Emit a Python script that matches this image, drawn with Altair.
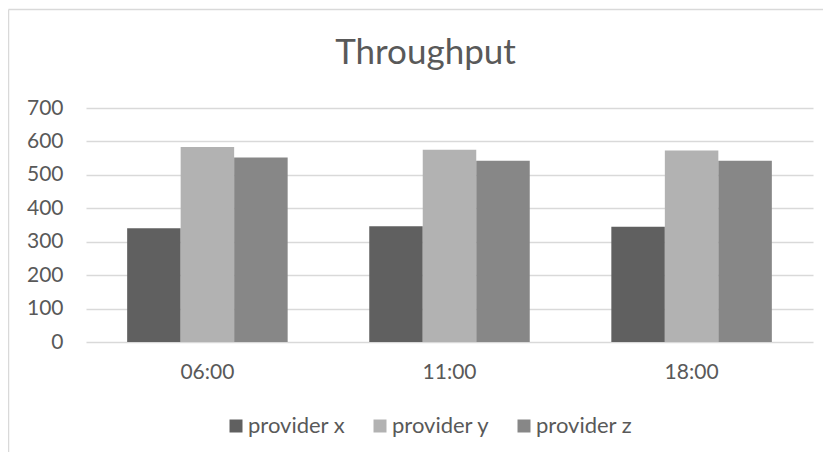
import altair as alt
import pandas as pd

times = ["06:00", "11:00", "18:00"]
providers = ["provider x", "provider y", "provider z"]
provider_x = [340, 346, 345]
provider_y = [583, 575, 573]
provider_z = [552, 542, 542]
colors = ["#606060", "#b2b2b2", "#878787"]
y_ticks = [0, 100, 200, 300, 400, 500, 600, 700]
title_text = "Throughput"

rows = []
for i, t in enumerate(times):
    for p, vals in zip(providers, [provider_x, provider_y, provider_z]):
        rows.append({"time": t, "provider": p, "value": vals[i]})
df = pd.DataFrame(rows)

FONT = "Lato"
TXT = "#595959"
GRID = "#d9d9d9"
W, H = 727, 234
PL, PT, PR, PB = 78, 100, 10, 110

bars = alt.Chart(df).mark_bar().encode(
    x=alt.X("time:N", sort=times, title=None,
            scale=alt.Scale(paddingInner=0.337, paddingOuter=0.17),
            axis=alt.Axis(labelAngle=0, domain=False, ticks=False, grid=False,
                          labelPadding=19, labelFontSize=21, labelFont=FONT,
                          labelColor=TXT)),
    xOffset=alt.XOffset("provider:N", sort=providers,
                        scale=alt.Scale(paddingInner=0, paddingOuter=0)),
    y=alt.Y("value:Q", title=None,
            scale=alt.Scale(domain=[0, 700], nice=False),
            axis=alt.Axis(values=y_ticks, domain=False, ticks=False,
                          labelPadding=23, labelFontSize=21, labelFont=FONT,
                          labelColor=TXT, gridColor=GRID, gridWidth=1.3)),
    color=alt.Color("provider:N", sort=providers, title=None,
                    scale=alt.Scale(domain=providers, range=colors),
                    legend=alt.Legend(orient="none", legendX=139, legendY=307,
                                      direction="horizontal", symbolType="square",
                                      symbolSize=169, symbolStrokeWidth=0,
                                      labelFont=FONT, labelFontSize=22,
                                      labelColor=TXT, labelOffset=1,
                                      columnPadding=23, padding=0)),
)

title = alt.Chart(pd.DataFrame({"t": [title_text]})).mark_text(
    font=FONT, fontSize=35, color=TXT, baseline="alphabetic", align="center"
).encode(text="t:N", x=alt.value(339.5), y=alt.value(-43.7))

frame_df = pd.DataFrame({"a": [0]})
frame_top = alt.Chart(frame_df).mark_rule(color=GRID, strokeWidth=1.5).encode(
    x=alt.value(-77.5), x2=alt.value(W + PR), y=alt.value(-98.5))
frame_left = alt.Chart(frame_df).mark_rule(color=GRID, strokeWidth=1.5).encode(
    x=alt.value(-77.5), y=alt.value(-98.5), y2=alt.value(H + PB))

chart = alt.layer(frame_top, frame_left, bars, title).properties(
    width=W, height=H,
    padding={"left": PL, "top": PT, "right": PR, "bottom": PB},
    autosize=alt.AutoSizeParams(type="none"),
    background="white",
).configure_view(stroke=None)

chart.save("out.html", embed_options={"renderer": "svg", "actions": False})
